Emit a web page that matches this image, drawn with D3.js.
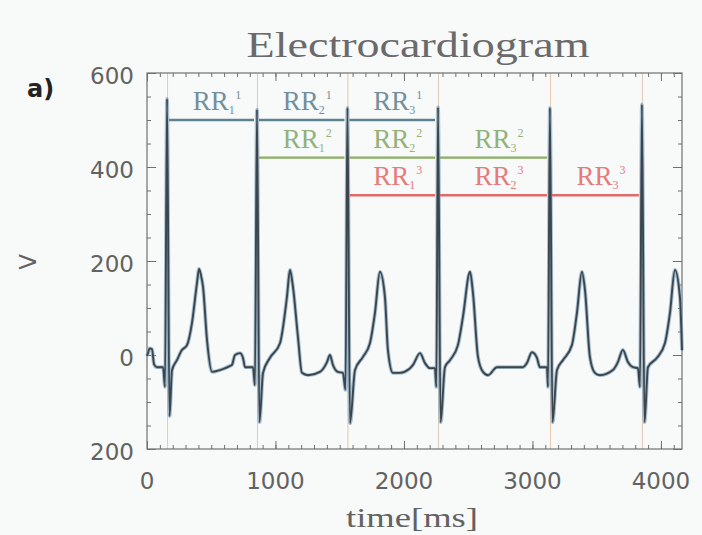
<!DOCTYPE html>
<html>
<head>
<meta charset="utf-8">
<script src="https://cdn.jsdelivr.net/npm/d3@7"></script>
<style>
  body { margin: 0; background: #f8f9f9; }
  svg { display: block; }
</style>
</head>
<body>
<script>
// ECG trace (ms, V)
const timeMs = [0, 8, 20, 39, 55, 78, 125, 140, 156, 175, 195, 233, 270, 311, 350, 389, 405, 420, 436, 467, 506, 568, 640, 661, 685, 724, 747, 763, 825, 840,
  856, 875, 903, 957, 1035, 1089, 1113, 1136, 1175, 1206, 1253, 1346, 1401, 1424, 1447, 1486, 1525, 1545,
  1560, 1580, 1619, 1681, 1735, 1774, 1813, 1852, 1875, 1914, 1969, 2040, 2070, 2125, 2163, 2202, 2241, 2252,
  2265, 2285, 2319, 2358, 2420, 2459, 2514, 2537, 2576, 2615, 2654, 2724, 2825, 2926, 2957, 2996, 3035, 3058, 3113, 3121,
  3136, 3156, 3191, 3237, 3307, 3346, 3385, 3409, 3447, 3486, 3525, 3626, 3665, 3704, 3743, 3782, 3821, 3837,
  3852, 3872, 3899, 3969, 4031, 4070, 4109, 4148, 4164];
const volts = [-2, 4, 14, 12, -20, -26, -26, -68, 545, -130, -32, -11, 10, 21, 68, 153, 183, 170, 145, 32, -36, -32, -24, -21, 0, 4, -6, -26, -26, -64,
  522, -143, -38, -6, 25, 123, 181, 145, 38, -38, -43, -36, -15, 0, -21, -36, -38, -74,
  526, -145, -32, -4, 25, 89, 177, 123, 11, -38, -38, -30, -21, 4, -17, -28, -28, -68,
  527, -143, -26, -11, 21, 81, 177, 132, -4, -36, -43, -26, -26, -26, -17, 6, -6, -26, -26, -68,
  526, -143, -32, -11, 21, 89, 177, 138, -4, -38, -43, -32, -15, 11, -15, -26, -28, -68,
  533, -143, -26, -6, 25, 89, 181, 123, 10];

// R peak times, used for the marker lines and the RR intervals
const rPeaks = [156, 856, 1560, 2265, 3136, 3852];

// RR interval rows: level (V), first interval index, label superscript
const rrLevels = [500, 420, 340];
const rrStart = [0, 1, 2];
const rrSup = ['1', '2', '3'];
const rrLineColors = ['#5f8290', '#8aae62', '#e06a6a'];
const rrTextColors = ['#728f9a', '#93b276', '#e47c7c'];

const xTicks = [0, 1000, 2000, 3000, 4000];
const xTickLabels = ['0', '1000', '2000', '3000', '4000'];
const yTicks = [-200, 0, 200, 400, 600];
const yTickLabels = ['200', '0', '200', '400', '600'];

const width = 702, height = 535;
const margin = { left: 147, right: 20, top: 73, bottom: 86 };

const svg = d3.select('body').append('svg')
  .attr('width', width)
  .attr('height', height);

const x = d3.scaleLinear().domain([0, 4164]).range([margin.left, width - margin.right]);
const y = d3.scaleLinear().domain([-200, 600]).range([height - margin.bottom, margin.top]);

const axisColor = '#707070';
const textColor = '#626262';

// R peak marker lines
svg.append('g')
  .selectAll('line')
  .data(rPeaks)
  .enter()
  .append('line')
  .attr('x1', d => x(d) + 0.5)
  .attr('x2', d => x(d) + 0.5)
  .attr('y1', y.range()[1])
  .attr('y2', y.range()[0])
  .style('stroke', (d, i) => (i % 2 ? '#c9a58a' : '#e0a070'))
  .style('stroke-width', 0.8)
  .style('stroke-opacity', 0.7);

// frame
svg.append('rect')
  .attr('x', x.range()[0])
  .attr('y', y.range()[1])
  .attr('width', x.range()[1] - x.range()[0])
  .attr('height', y.range()[0] - y.range()[1])
  .style('fill', 'none')
  .style('stroke', axisColor)
  .style('stroke-width', 1.2);

// axes with inward ticks
function styleAxis(g) {
  g.select('.domain').remove();
  g.selectAll('.tick line').style('stroke', axisColor).style('stroke-width', 1);
  g.selectAll('text').remove();
}

const xMinor = d3.range(0, 4200, 100);
const yMinor = d3.range(-200, 601, 50);

svg.append('g').attr('transform', `translate(0,${y.range()[0]})`)
  .call(d3.axisBottom(x).tickValues(xMinor).tickSize(-4)).call(styleAxis);
svg.append('g').attr('transform', `translate(0,${y.range()[0]})`)
  .call(d3.axisBottom(x).tickValues(xTicks).tickSize(-8)).call(styleAxis);
svg.append('g').attr('transform', `translate(0,${y.range()[1]})`)
  .call(d3.axisTop(x).tickValues(xMinor).tickSize(-4)).call(styleAxis);
svg.append('g').attr('transform', `translate(0,${y.range()[1]})`)
  .call(d3.axisTop(x).tickValues(xTicks).tickSize(-8)).call(styleAxis);
svg.append('g').attr('transform', `translate(${x.range()[0]},0)`)
  .call(d3.axisLeft(y).tickValues(yMinor).tickSize(-4)).call(styleAxis);
svg.append('g').attr('transform', `translate(${x.range()[0]},0)`)
  .call(d3.axisLeft(y).tickValues(yTicks).tickSize(-9)).call(styleAxis);
svg.append('g').attr('transform', `translate(${x.range()[1]},0)`)
  .call(d3.axisRight(y).tickValues(yMinor).tickSize(-4)).call(styleAxis);
svg.append('g').attr('transform', `translate(${x.range()[1]},0)`)
  .call(d3.axisRight(y).tickValues(yTicks).tickSize(-9)).call(styleAxis);

// tick labels
svg.append('g')
  .selectAll('text')
  .data(xTicks)
  .enter()
  .append('text')
  .attr('x', d => x(d))
  .attr('y', 489)
  .attr('text-anchor', 'middle')
  .style('font-family', 'DejaVu Sans')
  .style('font-size', '23px')
  .style('fill', textColor)
  .text((d, i) => xTickLabels[i]);

svg.append('g')
  .selectAll('text')
  .data(yTicks)
  .enter()
  .append('text')
  .attr('x', 134)
  .attr('y', d => y(d) + 3)
  .attr('dy', '0.36em')
  .attr('text-anchor', 'end')
  .style('font-family', 'DejaVu Sans')
  .style('font-size', '23px')
  .style('fill', textColor)
  .text((d, i) => yTickLabels[i]);

// ECG trace
const points = timeMs.map((t, i) => [t, volts[i]]);
const ecgLine = d3.line()
  .x(d => x(d[0]))
  .y(d => y(d[1]))
  .curve(d3.curveMonotoneX);

svg.append('path')
  .datum(points)
  .attr('d', ecgLine)
  .style('fill', 'none')
  .style('stroke', '#86a6bc')
  .style('stroke-width', 3.8)
  .style('stroke-opacity', 0.7)
  .style('stroke-linejoin', 'round');

svg.append('path')
  .datum(points)
  .attr('d', ecgLine)
  .style('fill', 'none')
  .style('stroke', '#3a454e')
  .style('stroke-width', 1.9)
  .style('stroke-linejoin', 'round');

// RR intervals
rrLevels.forEach((level, row) => {
  const g = svg.append('g');
  for (let k = 0; k < 3; k++) {
    const a = rPeaks[rrStart[row] + k];
    const b = rPeaks[rrStart[row] + k + 1];
    g.append('line')
      .attr('x1', x(a) + 2)
      .attr('x2', x(b) - 3)
      .attr('y1', y(level))
      .attr('y2', y(level))
      .style('stroke', rrLineColors[row])
      .style('stroke-width', 2.4);

    const t = g.append('text')
      .attr('x', (x(a) + x(b)) / 2 + 5)
      .attr('y', y(level) - 10)
      .attr('text-anchor', 'middle')
      .style('font-family', 'Liberation Serif')
      .style('font-size', '27px')
      .style('fill', rrTextColors[row]);
    t.append('tspan').text('RR');
    t.append('tspan').attr('dy', 4).style('font-size', '12px').text(String(k + 1));
    t.append('tspan').attr('dx', 1).attr('dy', -15).style('font-size', '12px').text(rrSup[row]);
  }
});

// titles
svg.append('text')
  .attr('x', 418)
  .attr('y', 57)
  .attr('text-anchor', 'middle')
  .attr('textLength', 343)
  .attr('lengthAdjust', 'spacingAndGlyphs')
  .style('font-family', 'Liberation Serif')
  .style('font-size', '35px')
  .style('fill', '#6a6a6a')
  .text('Electrocardiogram');

svg.append('text')
  .attr('x', 412)
  .attr('y', 527)
  .attr('text-anchor', 'middle')
  .attr('textLength', 132)
  .attr('lengthAdjust', 'spacingAndGlyphs')
  .style('font-family', 'Liberation Serif')
  .style('font-size', '28px')
  .style('fill', textColor)
  .text('time[ms]');

svg.append('text')
  .attr('transform', 'translate(36,262) rotate(-90)')
  .attr('text-anchor', 'middle')
  .style('font-family', 'DejaVu Sans')
  .style('font-size', '23px')
  .style('fill', textColor)
  .text('V');

svg.append('text')
  .attr('x', 27)
  .attr('y', 97)
  .style('font-family', 'DejaVu Sans')
  .style('font-weight', 'bold')
  .style('font-size', '24px')
  .style('fill', '#222')
  .text('a)');
</script>
</body>
</html>
